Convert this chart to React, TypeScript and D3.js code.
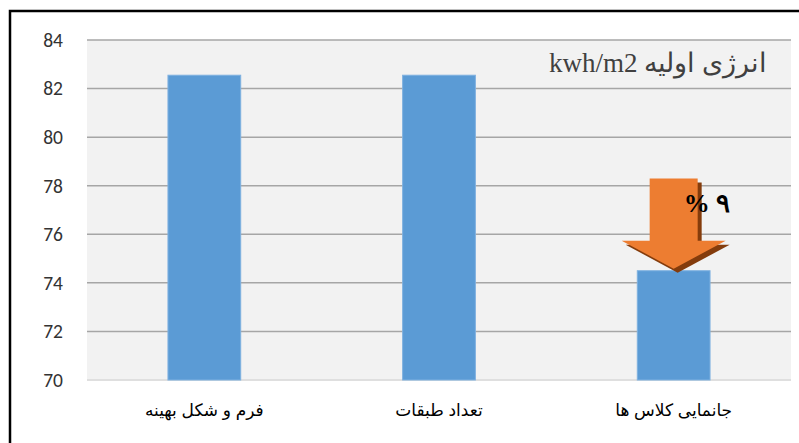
import * as d3 from 'd3';
import React, { useEffect, useRef } from 'react';

// chart data
const categories = ['فرم و شکل بهینه', 'تعداد طبقات', 'جانمایی کلاس ها'];
const energyValues = [82.55, 82.55, 74.5];
const yTicks = [70, 72, 74, 76, 78, 80, 82, 84];
const chartTitle = 'انرژی اولیه kwh/m2';
const arrowLabel = '% ۹';
// arrow drawn over the last bar, spanning from this value down to the bar top
const arrowFrom = 78.3;

const App = () => {
    const ref = useRef<SVGSVGElement>(null);
    const W = 799;
    const H = 443;
    const margin = { top: 40, right: 8, bottom: 63, left: 87 };

    useEffect(() => {
        const svg = d3.select(ref.current);
        svg.selectAll('*').remove();

        const width = W - margin.left - margin.right;
        const height = H - margin.top - margin.bottom;

        // outer frame
        svg.append('rect')
            .attr('x', 10).attr('y', 11)
            .attr('width', 820).attr('height', 460)
            .attr('fill', 'white')
            .attr('stroke', '#000').attr('stroke-width', 2.5);

        const g = svg.append('g')
            .attr('transform', 'translate(' + margin.left + ',' + margin.top + ')');

        const x = d3.scaleBand<string>()
            .domain(categories)
            .range([0, width])
            .paddingInner(0.69)
            .paddingOuter(0.345);

        const y = d3.scaleLinear()
            .domain([70, 84])
            .range([height, 0]);

        // plot background
        g.append('rect')
            .attr('x', 0).attr('y', 0)
            .attr('width', width).attr('height', height + 1)
            .attr('fill', '#f2f2f2');

        // gridlines
        g.selectAll('line.grid')
            .data(yTicks.filter(t => t !== 70))
            .enter()
            .append('line')
            .attr('class', 'grid')
            .attr('x1', 0).attr('x2', width)
            .attr('y1', d => y(d)).attr('y2', d => y(d))
            .attr('stroke', '#a6a6a6').attr('stroke-width', 1.5);

        // baseline
        g.append('line')
            .attr('x1', 0).attr('x2', width)
            .attr('y1', y(70)).attr('y2', y(70))
            .attr('stroke', '#d9d9d9').attr('stroke-width', 1.5);

        // y tick labels
        g.selectAll('text.ytick')
            .data(yTicks)
            .enter()
            .append('text')
            .attr('class', 'ytick')
            .attr('x', -24)
            .attr('y', d => y(d))
            .attr('dy', '0.35em')
            .attr('text-anchor', 'end')
            .attr('font-family', 'Calibri, Carlito, "Open Sans", sans-serif')
            .attr('font-size', 19.5)
            .attr('fill', '#333')
            .text(d => d);

        // bars
        g.selectAll('rect.bar')
            .data(energyValues)
            .enter()
            .append('rect')
            .attr('class', 'bar')
            .attr('x', (d, i) => x(categories[i]) as number)
            .attr('y', d => y(d))
            .attr('width', x.bandwidth())
            .attr('height', d => y(70) - y(d))
            .attr('fill', '#5b9bd5')
            .attr('stroke', '#7fb1e0').attr('stroke-width', 1);

        // category labels
        g.selectAll('text.cat')
            .data(categories)
            .enter()
            .append('text')
            .attr('class', 'cat')
            .attr('x', d => (x(d) as number) + x.bandwidth() / 2)
            .attr('y', height + 36)
            .attr('text-anchor', 'middle')
            .attr('direction', 'rtl')
            .attr('font-family', 'Arial, "Liberation Sans", "DejaVu Sans", sans-serif')
            .attr('font-size', 17)
            .attr('fill', '#000')
            .text(d => d);

        // title box
        g.append('text')
            .attr('x', width - 24)
            .attr('y', 32)
            .attr('text-anchor', 'start')
            .attr('direction', 'rtl')
            .attr('font-family', '"Times New Roman", "Liberation Serif", serif')
            .attr('font-size', 27)
            .attr('fill', '#404040')
            .text(chartTitle);

        // reduction arrow over the last bar
        const last = categories[categories.length - 1];
        const cx = (x(last) as number) + x.bandwidth() / 2;
        const top = y(arrowFrom);
        const tip = y(energyValues[energyValues.length - 1]) - 2;
        const headH = 28;
        const shaftW = 48;
        const headW = 104;
        const arrowPath = (dx: number, dy: number) => {
            const p = d3.path();
            p.moveTo(cx - shaftW / 2 + dx, top + dy);
            p.lineTo(cx + shaftW / 2 + dx, top + dy);
            p.lineTo(cx + shaftW / 2 + dx, tip - headH + dy);
            p.lineTo(cx + headW / 2 + dx, tip - headH + dy);
            p.lineTo(cx + dx, tip + dy);
            p.lineTo(cx - headW / 2 + dx, tip - headH + dy);
            p.lineTo(cx - shaftW / 2 + dx, tip - headH + dy);
            p.closePath();
            return p.toString();
        };
        g.append('path')
            .attr('d', arrowPath(4, 4))
            .attr('fill', '#843c0c');
        g.append('path')
            .attr('d', arrowPath(0, 0))
            .attr('fill', '#ed7d31');

        g.append('text')
            .attr('x', cx + 10)
            .attr('y', y(76.9))
            .attr('text-anchor', 'start')
            .attr('direction', 'ltr')
            .attr('font-family', '"Times New Roman", "Liberation Serif", serif')
            .attr('font-weight', 'bold')
            .attr('font-size', 26)
            .attr('fill', '#000')
            .text(arrowLabel);
    }, []);

    return (
        <div style={{ position: 'absolute', left: 0, top: 0 }}>
            <svg ref={ref} width={W} height={H} style={{ display: 'block' }}></svg>
        </div>
    );
};

export default App;
